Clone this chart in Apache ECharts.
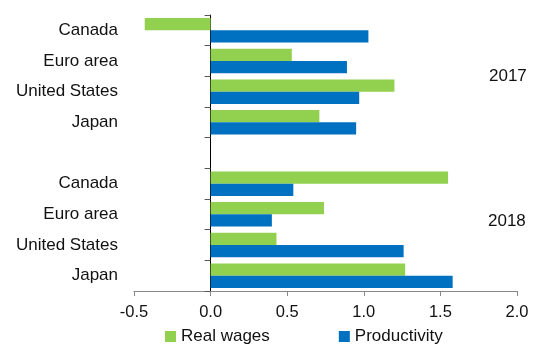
<!DOCTYPE html>
<html>
<head>
<meta charset="utf-8">
<script src="https://cdn.jsdelivr.net/npm/echarts@6/dist/echarts.min.js"></script>
<style>
  html, body { margin: 0; padding: 0; background: #fff; }
  #chart { width: 551px; height: 347px; }
</style>
</head>
<body>
<div id="chart"></div>
<script>
// Rows from top to bottom; the empty row separates the two years.
const categories = ['Canada', 'Euro area', 'United States', 'Japan', '', 'Canada', 'Euro area', 'United States', 'Japan'];
const realWages = [-0.43, 0.53, 1.20, 0.71, null, 1.55, 0.74, 0.43, 1.27];
const productivity = [1.03, 0.89, 0.97, 0.95, null, 0.54, 0.40, 1.26, 1.58];
const xTicks = { min: -0.5, max: 2.0, interval: 0.5 };
const yearLabels = ['2017', '2018'];

const FONT = '"Liberation Sans", Arial, sans-serif';
const chart = echarts.init(document.getElementById('chart'), null, { renderer: 'canvas' });

chart.setOption({
  animation: false,
  textStyle: { fontFamily: FONT },
  grid: { left: 134, right: 34, top: 15, bottom: 56, containLabel: false },
  xAxis: {
    type: 'value',
    min: xTicks.min, max: xTicks.max, interval: xTicks.interval,
    axisLine: { show: true, onZero: false, lineStyle: { color: '#888', width: 1 } },
    axisTick: { show: true, length: 5, lineStyle: { color: '#888' } },
    splitLine: { show: false },
    axisLabel: {
      color: '#111', fontSize: 16.5, fontFamily: FONT, margin: 13,
      formatter: v => v.toFixed(1)
    }
  },
  yAxis: [
    {
      // category names, sitting at the left edge of the plot
      type: 'category', data: categories, inverse: true,
      axisLine: { show: false, onZero: false },
      axisTick: { show: false },
      axisLabel: { color: '#111', fontSize: 17, fontFamily: FONT, margin: 16 }
    },
    {
      // the vertical axis line and its ticks drawn through zero
      type: 'category', data: categories, inverse: true, position: 'left',
      axisLine: { show: true, onZero: true, lineStyle: { color: '#000', width: 1 } },
      axisTick: { show: true, length: 6, lineStyle: { color: '#555' } },
      axisLabel: { show: false }
    }
  ],
  legend: {
    left: 165, top: 328, padding: 0,
    itemWidth: 11, itemHeight: 11, itemGap: 69,
    icon: 'rect',
    textStyle: { color: '#111', fontSize: 17, fontFamily: FONT },
    data: ['Real wages', 'Productivity']
  },
  series: [
    {
      name: 'Real wages', type: 'bar', yAxisIndex: 0,
      data: realWages, barGap: '0%', barCategoryGap: '20%',
      itemStyle: { color: '#92D050' }
    },
    {
      name: 'Productivity', type: 'bar', yAxisIndex: 0,
      data: productivity, barGap: '0%', barCategoryGap: '20%',
      itemStyle: { color: '#0070C0' }
    }
  ],
  graphic: [
    { type: 'text', left: 489, top: 68, style: { text: yearLabels[0], font: '17px ' + FONT, fill: '#111' } },
    { type: 'text', left: 488, top: 213, style: { text: yearLabels[1], font: '17px ' + FONT, fill: '#111' } }
  ]
});
</script>
</body>
</html>
